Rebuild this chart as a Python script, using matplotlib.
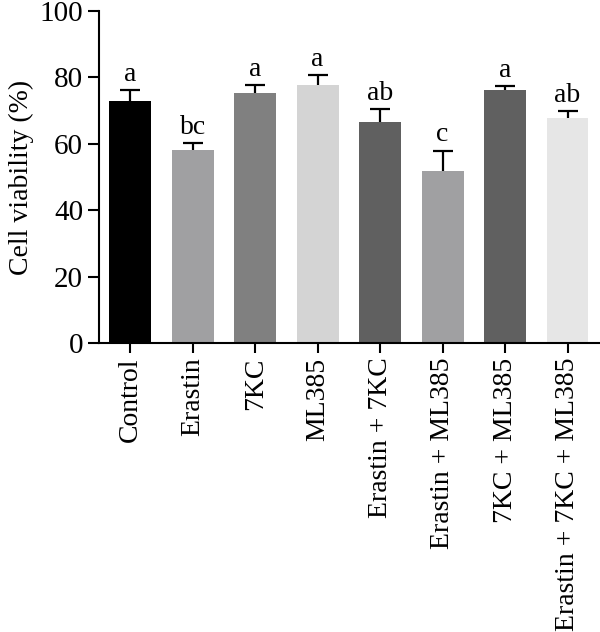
import matplotlib
matplotlib.use("Agg")
import matplotlib.pyplot as plt

groups = ["Control", "Erastin", "7KC", "ML385", "Erastin + 7KC",
          "Erastin + ML385", "7KC + ML385", "Erastin + 7KC + ML385"]
viability = [72.9, 58.2, 75.2, 77.8, 66.6, 51.7, 76.2, 67.7]
sd = [3.2, 1.9, 2.4, 2.8, 3.9, 6.2, 1.2, 2.1]
letters = ["a", "bc", "a", "a", "ab", "c", "a", "ab"]
colors = ["#000000", "#a0a0a2", "#808080", "#d4d4d4",
          "#606060", "#a0a0a2", "#606060", "#e6e6e6"]

plt.rcParams['font.family'] = ['Liberation Serif', 'DejaVu Serif']

fig = plt.figure(figsize=(6, 6.32), dpi=100)
ax = fig.add_axes([0.165, 0.4573, 0.835, 0.5253])

x = list(range(len(groups)))
ax.bar(x, viability, width=0.67, color=colors, zorder=2)

# upper-only error bars
tops = [v + s for v, s in zip(viability, sd)]
ax.vlines(x, viability, tops, colors='black', linewidth=1.6, zorder=3)
ax.hlines(tops, [xi - 0.16 for xi in x], [xi + 0.16 for xi in x],
          colors='black', linewidth=1.6, zorder=3)

for xi, t, lab in zip(x, tops, letters):
    ax.text(xi, t + 1.0, lab, ha='center', va='bottom', fontsize=20)

ax.set_xlim(-0.5, 7.52)
ax.set_ylim(0, 100)
ax.set_yticks([0, 20, 40, 60, 80, 100])
ax.set_xticks(x)
ax.set_xticklabels(groups, rotation=90, fontsize=20)
ax.tick_params(axis='y', labelsize=21, width=1.5, length=8)
ax.tick_params(axis='x', width=1.5, length=7)
ax.set_ylabel('Cell viability (%)', fontsize=20, labelpad=4)

for side in ['top', 'right']:
    ax.spines[side].set_visible(False)
for side in ['left', 'bottom']:
    ax.spines[side].set_linewidth(1.5)

fig.savefig('out.png', dpi=100)
